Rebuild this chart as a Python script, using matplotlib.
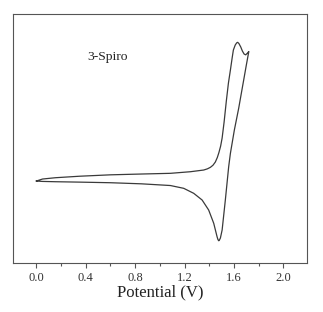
import matplotlib
matplotlib.use("Agg")
import matplotlib.pyplot as plt
from matplotlib.ticker import MultipleLocator

# Forward (anodic) scan: potential (V) and current (arb. units)
fwd_v = [0.00, 0.05, 0.154, 0.35, 0.60, 0.85, 1.085, 1.247, 1.355, 1.385, 1.409,
         1.430, 1.449, 1.465, 1.478, 1.492, 1.504, 1.520, 1.538, 1.555, 1.571,
         1.585, 1.595, 1.610, 1.622, 1.630, 1.640, 1.655, 1.668, 1.682, 1.695,
         1.708, 1.720]
fwd_i = [0.00, 0.20, 0.33, 0.48, 0.62, 0.70, 0.77, 0.93, 1.10, 1.22, 1.37,
         1.58, 1.90, 2.35, 2.85, 3.50, 4.30, 5.90, 8.00, 9.80, 11.10,
         12.30, 13.10, 13.60, 13.82, 13.87, 13.75, 13.40, 13.00, 12.70, 12.62,
         12.78, 12.95]

# Reverse (cathodic) scan
rev_v = [1.720, 1.700, 1.680, 1.657, 1.638, 1.603, 1.571, 1.557,
         1.530, 1.504, 1.490, 1.480, 1.476, 1.470, 1.463, 1.436, 1.395, 1.342,
         1.274, 1.193, 1.085, 0.85, 0.599, 0.35, 0.154, 0.05, 0.00]
rev_i = [12.95, 11.60, 10.20, 8.60, 7.27, 5.10, 2.77, 1.43,
         -1.90, -4.90, -5.70, -5.95, -5.97, -5.85, -5.57, -4.23, -2.90, -1.90,
         -1.23, -0.73, -0.45, -0.28, -0.17, -0.11, -0.07, -0.04, 0.00]

label_text = "3-Spiro"
x_ticks = [0.0, 0.4, 0.8, 1.2, 1.6, 2.0]
x_ticklabels = ["0.0", "0.4", "0.8", "1.2", "1.6", "2.0"]

plt.rcParams['font.family'] = ['Liberation Serif', 'DejaVu Serif']

fig = plt.figure(figsize=(3.23, 3.12), dpi=100)
ax = fig.add_axes([0.040, 0.157, 0.910, 0.798])

line_color = '#3a3a3a'
ax.plot(fwd_v + rev_v, fwd_i + rev_i, color=line_color, lw=0.9,
        solid_joinstyle='round')

ax.set_xlim(-0.19, 2.19)
ax.set_ylim(-8.2, 16.7)

ax.set_xticks(x_ticks)
ax.set_xticklabels(x_ticklabels, fontsize=9, color='#333333')
ax.xaxis.set_minor_locator(MultipleLocator(0.2))
ax.tick_params(axis='x', which='major', direction='out', length=3.5, width=0.8,
               color='#555555', pad=3)
ax.tick_params(axis='x', which='minor', direction='out', length=2.5, width=0.8,
               color='#555555')
ax.set_yticks([])
ax.tick_params(axis='x', top=False)

for s in ax.spines.values():
    s.set_color('#555555')
    s.set_linewidth(0.8)

ax.set_xlabel("Potential (V)", fontsize=12, color='#222222', labelpad=0)
ax.text(0.413, 12.4, label_text, fontsize=9.7, ha='left', va='center', color='#222222')

fig.savefig("out.png", dpi=100)
